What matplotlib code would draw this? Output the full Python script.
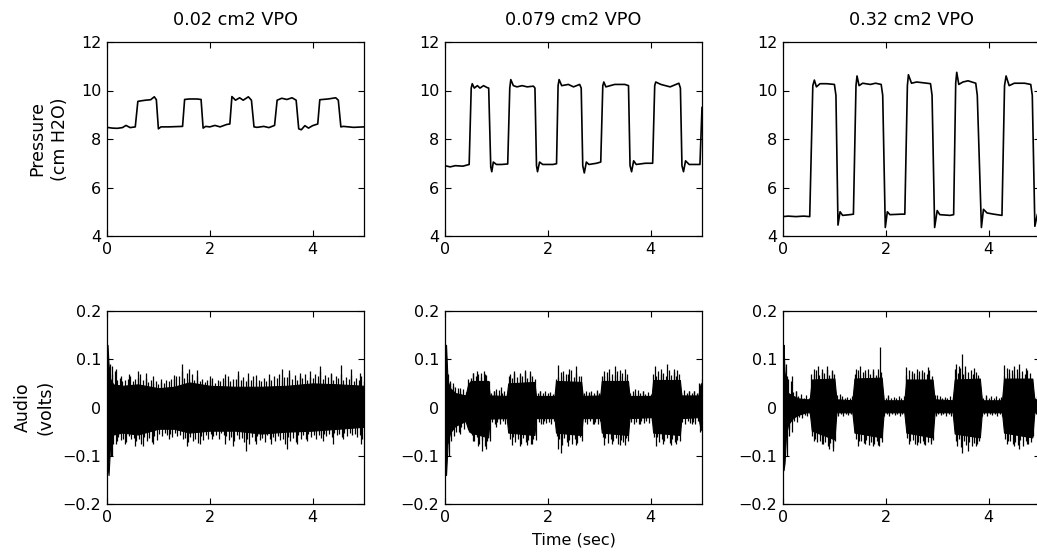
import matplotlib
matplotlib.use("Agg")
import matplotlib.pyplot as plt
import numpy as np

plt.rcParams['font.family'] = ['DejaVu Sans']

# ---------------- data ----------------
titles = ["0.02 cm2 VPO", "0.079 cm2 VPO", "0.32 cm2 VPO"]
x_ticks = [0, 2, 4]
p_ticks = [4, 6, 8, 10, 12]
a_ticks = [-0.2, -0.1, 0, 0.1, 0.2]
a_ticklabels = ["\u22120.2", "\u22120.1", "0", "0.1", "0.2"]

# pressure traces (time s, cm H2O)
pressure_1 = [(0, 8.48), (0.1, 8.45), (0.2, 8.44), (0.3, 8.47), (0.37, 8.56), (0.45, 8.47),
              (0.55, 8.5), (0.6, 9.55), (0.65, 9.57), (0.75, 9.6), (0.85, 9.62), (0.92, 9.74),
              (0.96, 9.62), (1.0, 8.42), (1.05, 8.5), (1.2, 8.5), (1.47, 8.52), (1.51, 9.63),
              (1.6, 9.65), (1.75, 9.65), (1.83, 9.63), (1.87, 8.45), (1.92, 8.52), (2.0, 8.5),
              (2.1, 8.56), (2.2, 8.5), (2.33, 8.6), (2.39, 8.62), (2.43, 9.75), (2.5, 9.6),
              (2.58, 9.7), (2.65, 9.6), (2.75, 9.74), (2.81, 9.6), (2.86, 8.5), (2.92, 8.48),
              (3.05, 8.52), (3.15, 8.47), (3.26, 8.56), (3.31, 9.6), (3.4, 9.68), (3.5, 9.63),
              (3.6, 9.7), (3.68, 9.6), (3.73, 8.42), (3.78, 8.38), (3.85, 8.55), (3.92, 8.45),
              (4.0, 8.55), (4.1, 8.62), (4.14, 9.62), (4.3, 9.65), (4.45, 9.7), (4.5, 9.6),
              (4.55, 8.5), (4.6, 8.52), (4.8, 8.48), (5.0, 8.5)]
pressure_2 = [(0, 6.9), (0.1, 6.85), (0.2, 6.9), (0.35, 6.88), (0.47, 6.95), (0.51, 10.1),
              (0.53, 10.28), (0.57, 10.1), (0.63, 10.2), (0.68, 10.1), (0.75, 10.2), (0.82, 10.12),
              (0.85, 10.1), (0.89, 6.85), (0.91, 6.65), (0.94, 7.05), (1.0, 6.95), (1.1, 6.95),
              (1.22, 6.97), (1.26, 10.1), (1.28, 10.45), (1.33, 10.2), (1.4, 10.15), (1.5, 10.2),
              (1.6, 10.15), (1.72, 10.18), (1.75, 10.1), (1.78, 6.9), (1.8, 6.65), (1.84, 7.05),
              (1.9, 6.95), (2.1, 6.95), (2.17, 6.98), (2.2, 10.2), (2.22, 10.45), (2.27, 10.2),
              (2.4, 10.25), (2.5, 10.15), (2.62, 10.25), (2.65, 10.1), (2.68, 6.9), (2.71, 6.6),
              (2.75, 7.05), (2.8, 6.95), (2.95, 7.0), (3.03, 7.05), (3.07, 10.2), (3.09, 10.35),
              (3.13, 10.15), (3.3, 10.25), (3.5, 10.25), (3.57, 10.2), (3.6, 6.9), (3.63, 6.65),
              (3.67, 7.1), (3.72, 6.95), (3.9, 7.0), (4.04, 7.0), (4.08, 10.2), (4.1, 10.35),
              (4.2, 10.25), (4.38, 10.15), (4.55, 10.3), (4.58, 10.1), (4.61, 6.9), (4.64, 6.65),
              (4.68, 7.1), (4.75, 6.95), (4.96, 6.95), (5.0, 9.3)]
pressure_3 = [(0, 4.8), (0.1, 4.82), (0.25, 4.8), (0.4, 4.82), (0.52, 4.8), (0.58, 10.2),
              (0.61, 10.43), (0.65, 10.15), (0.72, 10.28), (0.85, 10.28), (1.0, 10.25), (1.03, 9.8),
              (1.07, 4.45), (1.11, 5.0), (1.16, 4.85), (1.3, 4.88), (1.37, 4.9), (1.42, 10.2),
              (1.44, 10.6), (1.48, 10.2), (1.55, 10.3), (1.7, 10.25), (1.8, 10.3), (1.91, 10.25),
              (1.94, 9.8), (1.99, 4.35), (2.03, 5.0), (2.08, 4.88), (2.3, 4.9), (2.37, 4.9),
              (2.42, 10.2), (2.44, 10.65), (2.5, 10.3), (2.6, 10.35), (2.8, 10.3), (2.87, 10.28),
              (2.9, 9.8), (2.95, 4.35), (3.0, 5.05), (3.05, 4.88), (3.25, 4.85), (3.32, 4.88),
              (3.36, 10.3), (3.38, 10.75), (3.42, 10.25), (3.5, 10.35), (3.6, 10.4), (3.75, 10.3),
              (3.78, 9.8), (3.86, 4.35), (3.9, 5.1), (3.97, 4.95), (4.1, 4.9), (4.26, 4.85),
              (4.31, 10.2), (4.34, 10.6), (4.4, 10.2), (4.5, 10.3), (4.7, 10.3), (4.82, 10.25),
              (4.85, 9.8), (4.9, 4.4), (4.95, 4.9), (5.0, 5.0)]

# audio: dense core of the trace (time, upper, lower)
audio_core_1 = [(0, 0.1, -0.1), (0.01, 0.13, -0.12), (0.03, 0.09, -0.14), (0.06, 0.06, -0.08),
                (0.12, 0.048, -0.056), (0.3, 0.045, -0.052), (0.6, 0.048, -0.056), (1.0, 0.04, -0.044),
                (1.3, 0.043, -0.044), (1.6, 0.052, -0.052), (2.0, 0.045, -0.048), (2.5, 0.043, -0.048),
                (3.0, 0.043, -0.054), (3.5, 0.045, -0.05), (4.0, 0.05, -0.048), (4.5, 0.048, -0.044),
                (5.0, 0.045, -0.04)]
audio_core_2 = [(0, 0.1, -0.1), (0.02, 0.13, -0.14), (0.05, 0.055, -0.075), (0.1, 0.04, -0.052),
                (0.2, 0.03, -0.038), (0.4, 0.025, -0.028), (0.45, 0.048, -0.045), (0.5, 0.055, -0.052),
                (0.84, 0.055, -0.062), (0.87, 0.025, -0.023), (1.2, 0.024, -0.022), (1.23, 0.05, -0.052),
                (1.74, 0.053, -0.057), (1.77, 0.024, -0.022), (2.13, 0.024, -0.022), (2.16, 0.055, -0.052),
                (2.65, 0.053, -0.057), (2.68, 0.024, -0.022), (3.02, 0.025, -0.022), (3.05, 0.055, -0.052),
                (3.56, 0.055, -0.057), (3.59, 0.024, -0.022), (4.02, 0.024, -0.02), (4.05, 0.057, -0.052),
                (4.57, 0.057, -0.057), (4.6, 0.025, -0.022), (4.93, 0.025, -0.02), (4.97, 0.048, -0.044),
                (5.0, 0.052, -0.048)]
audio_core_3 = [(0, 0.1, -0.1), (0.01, 0.13, -0.13), (0.03, 0.075, -0.115), (0.06, 0.045, -0.055),
                (0.1, 0.03, -0.035), (0.2, 0.024, -0.021), (0.3, 0.019, -0.015), (0.45, 0.017, -0.01),
                (0.52, 0.017, -0.01), (0.56, 0.058, -0.048), (1.0, 0.06, -0.066), (1.04, 0.017, -0.01),
                (1.35, 0.015, -0.01), (1.39, 0.06, -0.052), (1.92, 0.062, -0.062), (1.96, 0.015, -0.01),
                (2.36, 0.015, -0.01), (2.4, 0.058, -0.052), (2.91, 0.058, -0.062), (2.95, 0.017, -0.01),
                (3.3, 0.015, -0.01), (3.34, 0.058, -0.054), (3.83, 0.06, -0.062), (3.87, 0.015, -0.01),
                (4.26, 0.015, -0.01), (4.3, 0.06, -0.052), (4.85, 0.06, -0.062), (4.89, 0.017, -0.01),
                (4.98, 0.017, -0.01), (5.0, 0.026, -0.017)]

# audio: outer fringe excursions every 0.1 s starting at 0.05 s (upper, lower)
fringe_t0, fringe_dt = 0.05, 0.1
fringe_hi_1 = [0.09, 0.075, 0.062, 0.058, 0.066, 0.06, 0.07, 0.062, 0.058, 0.055,
               0.052, 0.058, 0.06, 0.066, 0.075, 0.072, 0.07, 0.066, 0.06, 0.058,
               0.062, 0.056, 0.062, 0.066, 0.06, 0.068, 0.064, 0.06, 0.066, 0.058,
               0.062, 0.06, 0.066, 0.07, 0.064, 0.072, 0.068, 0.066, 0.07, 0.064,
               0.07, 0.075, 0.068, 0.072, 0.066, 0.07, 0.064, 0.068, 0.062, 0.065]
fringe_lo_1 = [-0.1, -0.075, -0.068, -0.072, -0.066, -0.07, -0.075, -0.07, -0.072, -0.068,
               -0.06, -0.058, -0.062, -0.06, -0.066, -0.072, -0.07, -0.074, -0.068, -0.065,
               -0.06, -0.065, -0.058, -0.068, -0.07, -0.066, -0.072, -0.075, -0.07, -0.068,
               -0.072, -0.066, -0.07, -0.068, -0.075, -0.07, -0.072, -0.066, -0.065, -0.062,
               -0.066, -0.064, -0.06, -0.062, -0.058, -0.062, -0.06, -0.058, -0.062, -0.065]
fringe_hi_2 = [0.07, 0.05, 0.04, 0.038, 0.06, 0.072, 0.07, 0.075, 0.055, 0.035,
               0.036, 0.034, 0.066, 0.072, 0.068, 0.074, 0.07, 0.06, 0.034, 0.035,
               0.033, 0.06, 0.074, 0.07, 0.078, 0.072, 0.066, 0.035, 0.034, 0.036,
               0.066, 0.074, 0.07, 0.076, 0.072, 0.07, 0.034, 0.036, 0.034, 0.033,
               0.07, 0.076, 0.072, 0.078, 0.074, 0.07, 0.036, 0.034, 0.035, 0.05]
fringe_lo_2 = [-0.1, -0.06, -0.05, -0.045, -0.05, -0.07, -0.075, -0.08, -0.07, -0.035,
               -0.034, -0.035, -0.065, -0.072, -0.075, -0.072, -0.076, -0.068, -0.034, -0.033,
               -0.034, -0.06, -0.078, -0.072, -0.076, -0.074, -0.07, -0.034, -0.035, -0.034,
               -0.062, -0.074, -0.07, -0.076, -0.072, -0.07, -0.034, -0.035, -0.033, -0.032,
               -0.062, -0.072, -0.07, -0.074, -0.072, -0.07, -0.035, -0.033, -0.034, -0.05]
fringe_hi_3 = [0.09, 0.055, 0.035, 0.028, 0.025, 0.07, 0.078, 0.074, 0.08, 0.076,
               0.025, 0.024, 0.022, 0.023, 0.078, 0.074, 0.08, 0.076, 0.08, 0.025,
               0.024, 0.022, 0.024, 0.023, 0.078, 0.072, 0.076, 0.074, 0.078, 0.025,
               0.024, 0.022, 0.024, 0.08, 0.082, 0.076, 0.078, 0.074, 0.025, 0.024,
               0.023, 0.024, 0.022, 0.082, 0.078, 0.08, 0.076, 0.078, 0.06, 0.024]
fringe_lo_3 = [-0.1, -0.05, -0.03, -0.022, -0.018, -0.06, -0.072, -0.076, -0.08, -0.082,
               -0.018, -0.017, -0.016, -0.018, -0.07, -0.074, -0.078, -0.076, -0.08, -0.018,
               -0.017, -0.016, -0.018, -0.017, -0.07, -0.076, -0.074, -0.078, -0.076, -0.018,
               -0.016, -0.017, -0.018, -0.07, -0.082, -0.078, -0.08, -0.076, -0.018, -0.017,
               -0.016, -0.018, -0.017, -0.07, -0.076, -0.078, -0.08, -0.076, -0.06, -0.018]

# audio: inner fringe excursions every 0.1 s starting at 0.1 s (upper, lower)
inner_t0 = 0.1
inner_hi_1 = [0.07, 0.058, 0.055, 0.06, 0.054, 0.062, 0.058, 0.052, 0.05, 0.048,
              0.05, 0.054, 0.06, 0.065, 0.062, 0.06, 0.058, 0.055, 0.052, 0.056,
              0.05, 0.055, 0.058, 0.054, 0.06, 0.056, 0.054, 0.058, 0.052, 0.055,
              0.054, 0.058, 0.062, 0.058, 0.064, 0.06, 0.058, 0.062, 0.058, 0.062,
              0.066, 0.06, 0.064, 0.058, 0.062, 0.058, 0.06, 0.055, 0.058, 0.055]
inner_lo_1 = [-0.075, -0.062, -0.065, -0.06, -0.064, -0.066, -0.062, -0.064, -0.06, -0.054,
              -0.052, -0.055, -0.052, -0.058, -0.064, -0.062, -0.066, -0.06, -0.058, -0.054,
              -0.058, -0.052, -0.06, -0.062, -0.058, -0.064, -0.066, -0.062, -0.06, -0.064,
              -0.058, -0.062, -0.06, -0.066, -0.062, -0.064, -0.058, -0.057, -0.055, -0.058,
              -0.056, -0.054, -0.055, -0.052, -0.054, -0.053, -0.052, -0.054, -0.056, -0.05]
inner_hi_2 = [0.055, 0.042, 0.034, 0.032, 0.062, 0.066, 0.064, 0.068, 0.03, 0.031,
              0.03, 0.029, 0.062, 0.064, 0.066, 0.062, 0.065, 0.031, 0.03, 0.03,
              0.029, 0.064, 0.066, 0.07, 0.064, 0.066, 0.03, 0.031, 0.03, 0.03,
              0.066, 0.064, 0.068, 0.066, 0.064, 0.03, 0.031, 0.03, 0.029, 0.029,
              0.066, 0.07, 0.066, 0.068, 0.066, 0.03, 0.03, 0.031, 0.03, 0.06]
inner_lo_2 = [-0.07, -0.05, -0.04, -0.032, -0.058, -0.062, -0.068, -0.07, -0.03, -0.03,
              -0.029, -0.03, -0.062, -0.066, -0.064, -0.068, -0.066, -0.03, -0.029, -0.03,
              -0.028, -0.066, -0.064, -0.068, -0.066, -0.062, -0.03, -0.029, -0.03, -0.029,
              -0.064, -0.066, -0.064, -0.068, -0.064, -0.03, -0.03, -0.029, -0.028, -0.028,
              -0.062, -0.066, -0.064, -0.066, -0.068, -0.03, -0.029, -0.03, -0.028, -0.052]
inner_hi_3 = [0.06, 0.032, 0.024, 0.02, 0.019, 0.07, 0.068, 0.072, 0.068, 0.07,
              0.02, 0.019, 0.02, 0.07, 0.068, 0.072, 0.07, 0.068, 0.074, 0.02,
              0.019, 0.02, 0.019, 0.068, 0.07, 0.068, 0.072, 0.07, 0.066, 0.02,
              0.019, 0.02, 0.019, 0.072, 0.07, 0.074, 0.07, 0.068, 0.02, 0.019,
              0.02, 0.019, 0.066, 0.072, 0.07, 0.074, 0.07, 0.072, 0.02, 0.025]
inner_lo_3 = [-0.06, -0.028, -0.02, -0.015, -0.014, -0.066, -0.07, -0.072, -0.074, -0.07,
              -0.014, -0.013, -0.014, -0.066, -0.07, -0.068, -0.072, -0.07, -0.072, -0.014,
              -0.013, -0.014, -0.013, -0.064, -0.068, -0.072, -0.07, -0.072, -0.068, -0.014,
              -0.013, -0.014, -0.013, -0.066, -0.07, -0.072, -0.074, -0.07, -0.014, -0.013,
              -0.014, -0.013, -0.066, -0.07, -0.072, -0.068, -0.07, -0.072, -0.014, -0.02]

# audio: individual taller peaks (time, value)
audio_peaks_1 = [(0.1, 0.085), (0.18, 0.08), (0.28, 0.065), (0.42, 0.07), (0.6, 0.075), (0.75, 0.072),
                 (0.9, 0.065), (1.05, 0.06), (1.3, 0.068), (1.45, 0.09), (1.6, 0.08), (1.75, 0.078),
                 (2.0, 0.065), (2.3, 0.07), (2.55, 0.075), (2.75, 0.072), (2.9, 0.068), (3.15, 0.07),
                 (3.4, 0.08), (3.55, 0.078), (3.75, 0.072), (3.95, 0.075), (4.15, 0.085), (4.35, 0.07),
                 (4.55, 0.088), (4.75, 0.08), (4.92, 0.072),
                 (0.1, -0.1), (0.2, -0.07), (0.35, -0.075), (0.55, -0.08), (0.7, -0.08), (0.9, -0.075),
                 (1.2, -0.065), (1.55, -0.08), (1.8, -0.075), (2.05, -0.065), (2.3, -0.075), (2.45, -0.08),
                 (2.7, -0.09), (2.9, -0.075), (3.2, -0.075), (3.5, -0.085), (3.7, -0.075), (3.9, -0.07),
                 (4.2, -0.07), (4.4, -0.075), (4.6, -0.065), (4.95, -0.075)]
audio_peaks_2 = [(0.1, 0.05), (0.15, 0.045), (0.3, 0.04), (0.95, 0.035), (1.0, 0.038), (1.08, 0.042),
                 (1.85, 0.035), (2.8, 0.033), (2.95, 0.035), (3.7, 0.038), (3.85, 0.035), (4.75, 0.035),
                 (4.85, 0.035), (0.55, 0.072), (0.62, 0.075), (0.7, 0.072), (0.78, 0.07), (1.27, 0.07),
                 (1.35, 0.075), (1.45, 0.072), (1.55, 0.078), (1.65, 0.075), (2.2, 0.088), (2.3, 0.075),
                 (2.42, 0.08), (2.55, 0.085), (3.1, 0.075), (3.2, 0.08), (3.3, 0.085), (3.4, 0.078),
                 (3.5, 0.08), (4.08, 0.085), (4.2, 0.08), (4.32, 0.09), (4.45, 0.08), (4.52, 0.078),
                 (0.55, -0.07), (0.65, -0.08), (0.72, -0.09), (0.8, -0.085), (1.3, -0.078), (1.45, -0.08),
                 (1.6, -0.078), (1.7, -0.075), (2.2, -0.085), (2.25, -0.095), (2.4, -0.08), (2.55, -0.078),
                 (3.1, -0.078), (3.25, -0.075), (3.4, -0.078), (3.5, -0.078), (4.1, -0.08), (4.25, -0.075),
                 (4.4, -0.078), (4.5, -0.075), (0.3, -0.055), (1.0, -0.04), (1.9, -0.035), (2.9, -0.035),
                 (3.8, -0.035), (4.8, -0.035)]
audio_peaks_3 = [(0.08, 0.065), (0.17, 0.065), (0.25, 0.035), (1.1, 0.028), (2.05, 0.025), (3.0, 0.025),
                 (3.95, 0.025), (0.6, 0.08), (0.68, 0.085), (0.75, 0.08), (0.85, 0.085), (0.95, 0.078),
                 (1.42, 0.08), (1.5, 0.085), (1.6, 0.078), (1.75, 0.08), (1.88, 0.125), (2.4, 0.083),
                 (2.5, 0.075), (2.6, 0.08), (2.7, 0.078), (2.82, 0.083), (3.36, 0.09), (3.42, 0.085),
                 (3.48, 0.11), (3.55, 0.085), (3.72, 0.082), (4.3, 0.088), (4.4, 0.08), (4.5, 0.085),
                 (4.6, 0.09), (4.72, 0.082),
                 (0.12, -0.045), (0.6, -0.07), (0.75, -0.075), (0.9, -0.085), (0.98, -0.09), (1.45, -0.08),
                 (1.6, -0.075), (1.75, -0.08), (1.85, -0.078), (2.45, -0.075), (2.6, -0.078), (2.75, -0.075),
                 (2.88, -0.07), (3.38, -0.08), (3.48, -0.095), (3.6, -0.09), (3.75, -0.08), (4.35, -0.075),
                 (4.5, -0.08), (4.6, -0.085), (4.75, -0.075)]

pressures = [pressure_1, pressure_2, pressure_3]
audio_cores = [audio_core_1, audio_core_2, audio_core_3]
fringes_hi = [fringe_hi_1, fringe_hi_2, fringe_hi_3]
fringes_lo = [fringe_lo_1, fringe_lo_2, fringe_lo_3]
inners_hi = [inner_hi_1, inner_hi_2, inner_hi_3]
inners_lo = [inner_lo_1, inner_lo_2, inner_lo_3]
audio_peaks = [audio_peaks_1, audio_peaks_2, audio_peaks_3]

# ---------------- figure ----------------
W, H = 1037, 558
fig = plt.figure(figsize=(W / 100, H / 100), dpi=100)

lefts = [107, 445, 783]
aw = 257
top_row = (42, 236)
bot_row = (311, 504)
FS = 11.5


def make_ax(left, row):
    y0, y1 = row
    return fig.add_axes([left / W, 1 - y1 / H, aw / W, (y1 - y0) / H])


def style(ax):
    ax.tick_params(direction='in', top=True, right=True, length=4, width=0.8,
                   labelsize=FS, pad=4, colors='black')
    for s in ax.spines.values():
        s.set_linewidth(0.9)
    ax.set_xlim(0, 5)
    ax.set_xticks(x_ticks)
    ax.set_xticklabels([str(t) for t in x_ticks])


for i in range(3):
    ax = make_ax(lefts[i], top_row)
    t, p = zip(*pressures[i])
    ax.plot(t, p, color='black', lw=1.2)
    style(ax)
    ax.set_ylim(4, 12)
    ax.set_yticks(p_ticks)
    ax.set_title(titles[i], fontsize=12.7, pad=12)
    if i == 0:
        ax.set_ylabel("Pressure\n(cm H2O)", fontsize=12.5, labelpad=9, linespacing=1.3)

    axb = make_ax(lefts[i], bot_row)
    et, eh, el = zip(*audio_cores[i])
    axb.fill_between(et, el, eh, color='black', lw=0.8)
    ft = fringe_t0 + fringe_dt * np.arange(len(fringes_hi[i]))
    axb.vlines(ft, 0, fringes_hi[i], color='black', lw=0.9)
    axb.vlines(ft + 0.02, 0, fringes_lo[i], color='black', lw=0.9)
    it = inner_t0 + fringe_dt * np.arange(len(inners_hi[i]))
    axb.vlines(it, 0, inners_hi[i], color='black', lw=0.9)
    axb.vlines(it + 0.02, 0, inners_lo[i], color='black', lw=0.9)
    pk_t, pk_v = zip(*audio_peaks[i])
    axb.vlines(pk_t, 0, pk_v, color='black', lw=0.9)
    style(axb)
    axb.set_ylim(-0.2, 0.2)
    axb.set_yticks(a_ticks)
    axb.set_yticklabels(a_ticklabels)
    if i == 0:
        axb.set_ylabel("Audio\n(volts)", fontsize=12.5, labelpad=6, linespacing=1.3)
    if i == 1:
        axb.set_xlabel("Time (sec)", fontsize=FS, labelpad=6)

fig.savefig("out.png", dpi=100)
